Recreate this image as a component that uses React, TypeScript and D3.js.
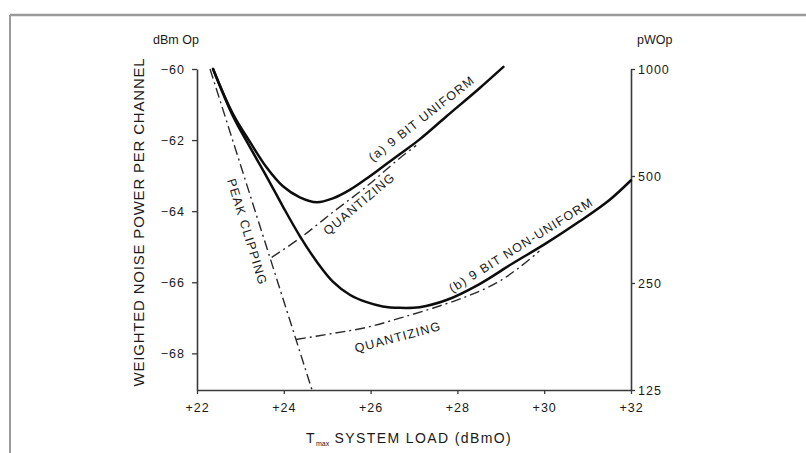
import React, { useEffect, useRef } from 'react';
import * as d3 from 'd3';

// axis ticks
const loadTicks = [22, 24, 26, 28, 30, 32];
const dbmTicks = [-60, -62, -64, -66, -68];
const pwTicks = [125, 250, 500, 1000];

// (a) 9 bit uniform, total noise
const uniformLoad = [22.37, 22.83, 23.22, 23.61, 23.98, 24.37, 24.76, 25.13, 25.52, 25.91, 26.28, 26.67, 27.13, 27.75, 28.51, 29.06];
const uniformNoise = [-60.0, -61.27, -62.05, -62.78, -63.3, -63.61, -63.75, -63.64, -63.4, -63.08, -62.75, -62.4, -61.98, -61.33, -60.54, -59.94];

// (b) 9 bit non-uniform, total noise
const nonUniformLoad = [22.37, 22.83, 23.22, 23.61, 23.98, 24.37, 24.76, 25.13, 25.52, 25.91, 26.28, 26.67, 27.13, 27.75, 28.51, 29.26, 30.05, 30.8, 31.49, 32.0];
const nonUniformNoise = [-60.0, -61.33, -62.2, -63.04, -63.87, -64.7, -65.42, -65.98, -66.35, -66.56, -66.68, -66.72, -66.7, -66.5, -66.05, -65.48, -64.9, -64.3, -63.7, -63.13];

// peak clipping component
const clipLoad = [22.3, 24.65];
const clipNoise = [-60.0, -69.03];

// quantizing components
const quantALoad = [23.72, 24.37, 25.13, 25.91, 26.67, 27.05];
const quantANoise = [-65.3, -64.76, -64.03, -63.3, -62.51, -62.15];
const quantBLoad = [24.28, 25.13, 25.91, 26.67, 27.43, 28.21, 28.9, 29.43, 29.89];
const quantBNoise = [-67.61, -67.44, -67.27, -67.01, -66.73, -66.4, -66.02, -65.58, -65.12];

// curve annotations (data coords)
const noteText = ['(a) 9 BIT UNIFORM', 'QUANTIZING', 'PEAK CLIPPING', '(b) 9 BIT NON-UNIFORM', 'QUANTIZING'];
const noteLoad = [27.18, 25.74, 23.15, 29.47, 26.63];
const noteNoise = [-61.4, -63.8, -64.59, -64.96, -67.55];
const noteAngle = [-38, -40, 73, -32, -15];

const W = 806;
const H = 453;
const FONT = '"Liberation Sans", Arial, Helvetica, sans-serif';
const INK = '#1a1a1a';

export default function App() {
    const ref = useRef<SVGSVGElement | null>(null);

    useEffect(() => {
        const svg = d3.select(ref.current);
        svg.selectAll('*').remove();

        const pwBottom = 10 * Math.log10(125 / 1000) - 60;

        const x = d3.scaleLinear().domain([22, 32]).range([197, 631]);
        const y = d3.scaleLinear().domain([pwBottom, -60]).range([390, 69]);
        const yPw = d3.scaleLog().domain([125, 1000]).range([390, 69]);

        // frame of the figure
        svg.append('line').attr('x1', 10).attr('x2', W).attr('y1', 15).attr('y2', 15)
            .attr('stroke', '#9a9a9a').attr('stroke-width', 2.5);
        svg.append('line').attr('x1', 10).attr('x2', 10).attr('y1', 15).attr('y2', H)
            .attr('stroke', '#9a9a9a').attr('stroke-width', 2);

        const styleAxis = (g: any, size: number) => {
            g.select('.domain').attr('stroke', '#3a3a3a').attr('stroke-width', 1.6);
            g.selectAll('.tick line').attr('stroke', '#3a3a3a').attr('stroke-width', 1.3);
            g.selectAll('text')
                .attr('font-family', FONT)
                .attr('font-size', size)
                .attr('letter-spacing', 1)
                .attr('fill', INK);
        };

        svg.append('g')
            .attr('transform', `translate(${x(22)},0)`)
            .call(d3.axisLeft(y).tickValues(dbmTicks).tickSize(5).tickSizeOuter(0).tickPadding(7)
                .tickFormat((d: any) => `\u2212${Math.abs(d)}`))
            .call((g: any) => styleAxis(g, 12.5));

        svg.append('g')
            .attr('transform', `translate(0,${y(pwBottom)})`)
            .call(d3.axisBottom(x).tickValues(loadTicks).tickSize(4).tickSizeOuter(0).tickPadding(9)
                .tickFormat((d: any) => `+${d}`))
            .call((g: any) => styleAxis(g, 12.5));

        svg.append('g')
            .attr('transform', `translate(${x(32)},0)`)
            .call(d3.axisRight(yPw).tickValues(pwTicks).tickSize(4).tickSizeOuter(0).tickPadding(3)
                .tickFormat((d: any) => String(d)))
            .call((g: any) => styleAxis(g, 12.5));

        const line = d3.line<[number, number]>()
            .x(d => x(d[0]))
            .y(d => y(d[1]))
            .curve(d3.curveCatmullRom.alpha(0.5));

        const pairs = (a: number[], b: number[]) => a.map((v, i) => [v, b[i]] as [number, number]);

        // dash-dot components
        [[clipLoad, clipNoise], [quantALoad, quantANoise], [quantBLoad, quantBNoise]].forEach(([a, b]) => {
            svg.append('path')
                .attr('d', line(pairs(a, b)))
                .attr('fill', 'none')
                .attr('stroke', '#2a2a2a')
                .attr('stroke-width', 1.4)
                .attr('stroke-dasharray', '10 4 2 4');
        });

        // total noise curves
        [[uniformLoad, uniformNoise], [nonUniformLoad, nonUniformNoise]].forEach(([a, b]) => {
            svg.append('path')
                .attr('d', line(pairs(a, b)))
                .attr('fill', 'none')
                .attr('stroke', '#0d0d0d')
                .attr('stroke-width', 2.5)
                .attr('stroke-linecap', 'round');
        });

        noteText.forEach((t, i) => {
            const px = x(noteLoad[i]);
            const py = y(noteNoise[i]);
            svg.append('text')
                .attr('transform', `translate(${px},${py}) rotate(${noteAngle[i]})`)
                .attr('text-anchor', 'middle')
                .attr('dominant-baseline', 'central')
                .attr('font-family', FONT)
                .attr('font-size', 12.5)
                .attr('letter-spacing', 1.2)
                .attr('fill', INK)
                .text(t);
        });

        // axis titles
        svg.append('text')
            .attr('transform', `translate(138,222) rotate(-90)`)
            .attr('text-anchor', 'middle')
            .attr('dominant-baseline', 'central')
            .attr('font-family', FONT)
            .attr('font-size', 15)
            .attr('letter-spacing', 0.8)
            .attr('fill', INK)
            .text('WEIGHTED NOISE POWER PER CHANNEL');

        svg.append('text')
            .attr('x', 176).attr('y', 44)
            .attr('text-anchor', 'middle')
            .attr('font-family', FONT).attr('font-size', 12.5)
            .attr('fill', INK)
            .text('dBm Op');

        svg.append('text')
            .attr('x', 637).attr('y', 44)
            .attr('font-family', FONT).attr('font-size', 12.5)
            .attr('fill', INK)
            .text('pWOp');

        const xt = svg.append('text')
            .attr('x', 306).attr('y', 443)
            .attr('font-family', FONT).attr('font-size', 14)
            .attr('letter-spacing', 1.4)
            .attr('fill', INK);
        xt.append('tspan').text('T');
        xt.append('tspan').attr('font-size', 7).attr('dy', 3).attr('letter-spacing', 0).text('max');
        xt.append('tspan').attr('dy', -3).text(' SYSTEM LOAD (dBmO)');
    }, []);

    return (
        <div style={{ position: 'absolute', left: 0, top: 0 }}>
            <svg ref={ref} width={W} height={H} style={{ display: 'block', background: '#fff' }} />
        </div>
    );
}
